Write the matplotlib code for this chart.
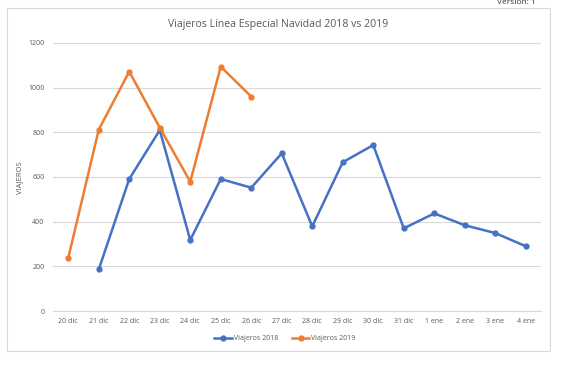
import matplotlib
matplotlib.use("Agg")
import matplotlib.pyplot as plt
from matplotlib.patches import Rectangle
import numpy as np

categories = ["20 dic", "21 dic", "22 dic", "23 dic", "24 dic", "25 dic", "26 dic",
              "27 dic", "28 dic", "29 dic", "30 dic", "31 dic", "1 ene", "2 ene",
              "3 ene", "4 ene"]
viajeros_2018 = [np.nan, 186, 591, 810, 318, 591, 552, 706, 379, 666, 743, 370, 437, 384, 349, 290]
viajeros_2019 = [237, 812, 1072, 821, 579, 1094, 960] + [np.nan] * 9
yticks = [0, 200, 400, 600, 800, 1000, 1200]

plt.rcParams['font.family'] = ['Open Sans', 'DejaVu Sans']

fig = plt.figure(figsize=(5.68, 3.71), dpi=100)
fig.patch.set_facecolor("white")
fig.patches.append(Rectangle((7/568, 1 - 351/371), 543/568, 343/371, transform=fig.transFigure,
                             fill=False, edgecolor="#D9D9D9", linewidth=0.8))
ax = fig.add_axes([53/568, 1 - 311/371, 488/568, 268/371])

x = np.arange(len(categories))
blue = "#4472C4"
orange = "#ED7D31"
ax.plot(x, viajeros_2018, color=blue, lw=1.8, marker="o", ms=3.5, label="Viajeros 2018")
ax.plot(x, viajeros_2019, color=orange, lw=1.8, marker="o", ms=3.5, label="Viajeros 2019")

ax.set_xlim(-0.5, len(categories) - 0.5)
ax.set_ylim(0, 1200)
ax.set_yticks(yticks)
ax.set_yticklabels([str(v) for v in yticks])
ax.set_xticks(x)
ax.set_xticklabels(categories)
ax.grid(axis="y", color="#D9D9D9", lw=0.8)
ax.set_axisbelow(True)
for s in ["top", "right", "left"]:
    ax.spines[s].set_visible(False)
ax.spines["bottom"].set_color("#D9D9D9")
ax.tick_params(axis="both", length=0, labelsize=5, colors="#595959")
ax.tick_params(axis="y", pad=6)
ax.tick_params(axis="x", pad=5)
ax.set_ylabel("VIAJEROS", fontsize=5.5, color="#595959")
ax.yaxis.set_label_coords((23 - 53) / 488, (311 - 178) / 268)

fig.text(278.5/568, 1 - 25/371, "Viajeros Línea Especial Navidad 2018 vs 2019", ha="center", va="center",
         fontsize=7.6, color="#595959")
fig.text(497/568, 1 - 4/371, "Version: 1", ha="left", va="baseline", fontsize=6, color="#333333")

fig.legend(loc="center", bbox_to_anchor=(285/568, 1 - 339/371), ncol=2, frameon=False,
           fontsize=5, labelcolor="#595959", handlelength=2.5, columnspacing=2, handletextpad=0.3)

fig.savefig("out.png", dpi=100)
